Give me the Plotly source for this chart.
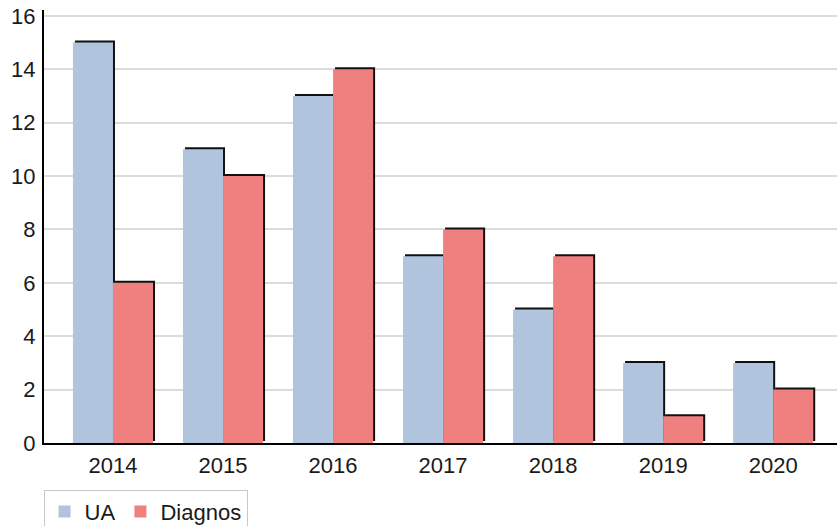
import plotly.graph_objects as go

years = ["2014", "2015", "2016", "2017", "2018", "2019", "2020"]
ua = [15, 11, 13, 7, 5, 3, 3]
diagnos = [6, 10, 14, 8, 7, 1, 2]

BW = 0.364          # bar width in category units
SX = 0.018          # shadow x shift (~2px)
SY = 0.075          # shadow y shift (~2px)
FONT = "Liberation Sans, Arial, sans-serif"

fig = go.Figure()
x = list(range(len(years)))

def add_series(vals, name, color, offset):
    fig.add_trace(go.Bar(x=x, y=vals, base=SY, offset=offset + SX, width=BW,
                         marker=dict(color="#111111", line=dict(width=0)),
                         showlegend=False, hoverinfo="skip"))
    fig.add_trace(go.Bar(x=x, y=vals, offset=offset, width=BW, name=name,
                         marker=dict(color=color, line=dict(width=0))))

add_series(ua, "UA", "#B0C4DE", -BW)
add_series(diagnos, "Diagnos", "#F08080", 0)

fig.update_layout(
    barmode="overlay",
    width=837, height=526,
    margin=dict(l=44, r=0, t=10, b=83),
    paper_bgcolor="white", plot_bgcolor="white",
    font=dict(family=FONT, size=22, color="#1a1a1a"),
    legend=dict(orientation="h", xref="container", yref="container",
                x=0.052, xanchor="left", y=0.069, yanchor="top",
                bordercolor="#c8c8c8", borderwidth=1, bgcolor="white",
                font=dict(family=FONT, size=22, color="#1a1a1a"),
                tracegroupgap=0, itemwidth=30),
    xaxis=dict(range=[-0.627, 6.58], tickmode="array", tickvals=x, ticktext=years,
               showgrid=False, showline=True, linecolor="black", linewidth=2,
               ticks="", zeroline=False, fixedrange=True, automargin=False,
               ticklabelstandoff=2, ticklabeloverflow="allow"),
    yaxis=dict(range=[0, 16.22], tickvals=[0, 2, 4, 6, 8, 10, 12, 14, 16],
               showgrid=True, gridcolor="#dcdcdc", gridwidth=2,
               showline=True, linecolor="black", linewidth=2,
               ticks="", zeroline=False, fixedrange=True, automargin=False,
               ticklabelstandoff=2, ticklabeloverflow="allow"),
)

fig.write_html("out.html", config={"displayModeBar": False},
               post_script="document.body.style.margin='0';document.body.style.overflow='hidden';")
